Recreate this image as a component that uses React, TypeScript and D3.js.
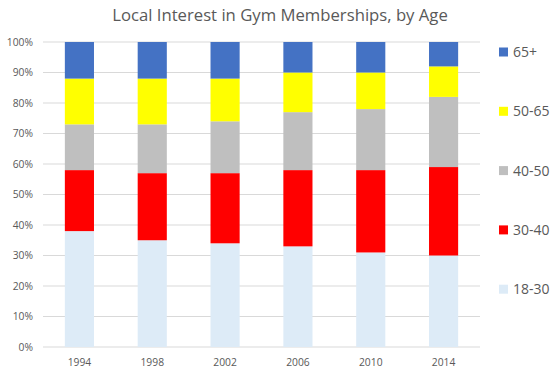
import React from "react";
import * as d3 from "d3";

const years = ["1994", "1998", "2002", "2006", "2010", "2014"];
const seriesNames = ["18-30", "30-40", "40-50", "50-65", "65+"];
const s1830 = [38, 35, 34, 33, 31, 30];
const s3040 = [20, 22, 23, 25, 27, 29];
const s4050 = [15, 16, 17, 19, 20, 23];
const s5065 = [15, 15, 14, 13, 12, 10];
const s65 = [12, 12, 12, 10, 10, 8];
const colors = ["#DDEBF7", "#FF0000", "#BFBFBF", "#FFFF00", "#4472C4"];
const yTicks = [0, 10, 20, 30, 40, 50, 60, 70, 80, 90, 100];

const W = 560, H = 374;
const left = 43, right = 480, top = 42, bottom = 347;
const font = "'Open Sans', 'Liberation Sans', sans-serif";

export default function App() {
  const rows = years.map((y, i) => ({
    year: y,
    "18-30": s1830[i],
    "30-40": s3040[i],
    "40-50": s4050[i],
    "50-65": s5065[i],
    "65+": s65[i],
  }));
  const stack = d3.stack<any>().keys(seriesNames);
  const layers = stack(rows);
  const x = d3.scaleBand().domain(years).range([left, right]).paddingInner(0.6).paddingOuter(0.3);
  const y = d3.scaleLinear().domain([0, 100]).range([bottom, top]);

  return (
    <svg width={W} height={H} style={{ position: "absolute", left: 0, top: 0, background: "#fff" }}>
      <text x={280} y={21} textAnchor="middle" fontFamily={font} fontSize={16.7} fill="#595959">
        Local Interest in Gym Memberships, by Age
      </text>
      {yTicks.map((t) => (
        <g key={t}>
          <line x1={left} x2={right} y1={y(t)} y2={y(t)} stroke="#D9D9D9" strokeWidth={1} />
          <text x={33} y={y(t)} dy="0.35em" textAnchor="end" fontFamily={font} fontSize={10.3} fill="#595959">
            {t}%
          </text>
        </g>
      ))}
      {layers.map((layer, li) => (
        <g key={layer.key} fill={colors[li]}>
          {layer.map((d, i) => (
            <rect
              key={i}
              x={x(years[i])}
              width={x.bandwidth()}
              y={y(d[1])}
              height={y(d[0]) - y(d[1])}
            />
          ))}
        </g>
      ))}
      {years.map((yr) => (
        <text key={yr} x={(x(yr) as number) + x.bandwidth() / 2} y={366} textAnchor="middle" fontFamily={font} fontSize={10.3} fill="#595959">
          {yr}
        </text>
      ))}
      {seriesNames
        .slice()
        .reverse()
        .map((name, i) => {
          const idx = seriesNames.length - 1 - i;
          const cy = 52 + i * 59.3;
          return (
            <g key={name}>
              <rect x={499} y={cy - 4.5} width={9} height={9} fill={colors[idx]} />
              <text x={513} y={cy} dy="0.35em" fontFamily={font} fontSize={14} fill="#595959">
                {name}
              </text>
            </g>
          );
        })}
    </svg>
  );
}
